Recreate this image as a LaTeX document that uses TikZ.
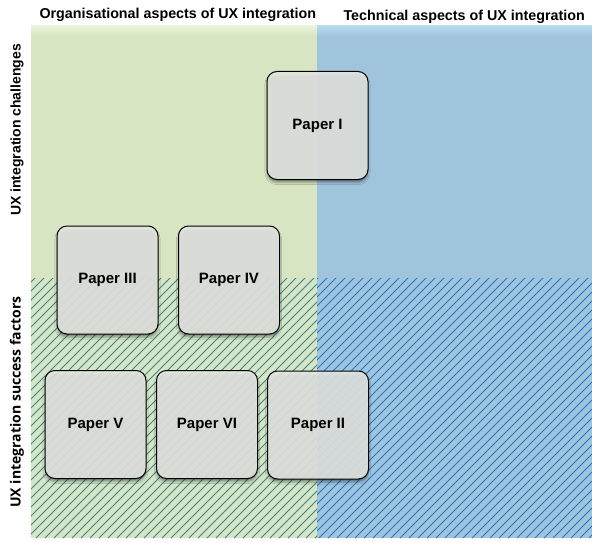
\documentclass[tikz,border=0pt]{standalone}
\usepackage{fontspec}
\setmainfont{Liberation Sans}
\newfontfamily\sidefont{Open Sans}
\usepackage{tikz}
\usetikzlibrary{shadows.blur}
\usepackage{xcolor}
\definecolor{orggreen}{RGB}{215, 229, 195}
\definecolor{orggreentop}{RGB}{232, 244, 216}
\definecolor{techblue}{RGB}{161, 196, 221}
\definecolor{techbluetop}{RGB}{184, 218, 240}
\definecolor{hatchgreen}{RGB}{56, 132, 150}
\definecolor{hatchblue}{RGB}{34, 120, 200}
\definecolor{boxgrey}{RGB}{230, 232, 228}

\begin{document}
\begin{tikzpicture}[x=1pt, y=-1pt,
    paperbox/.style={draw=black, line width=1pt, rounded corners=10pt,
        fill=boxgrey, fill opacity=0.88, text opacity=1,
        minimum width=101pt, minimum height=108pt,
        font=\bfseries\fontsize{15}{17}\selectfont,
        blur shadow={shadow xshift=0pt, shadow yshift=-3pt, shadow opacity=45}},
    toplabel/.style={anchor=base west, font=\bfseries\fontsize{14.3}{16}\selectfont},
    sidelabel/.style={rotate=90, anchor=center}]
    \useasboundingbox (0,0) rectangle (592,543);

    % quadrants
    \fill[orggreen] (31,26) rectangle (317,538);
    \fill[techblue] (317,26) rectangle (592,538);
    \shade[top color=orggreentop, bottom color=orggreen] (31,26) rectangle (317,36);
    \shade[top color=techbluetop, bottom color=techblue] (317,26) rectangle (592,36);

    % hatching for success factors
    \begin{scope}
        \clip (31,278) rectangle (317,538);
        \foreach \x in {-270,-261,...,330}
            \draw[hatchgreen, line width=0.85pt] (\x,538) -- ++(262,-262);
    \end{scope}
    \begin{scope}
        \clip (317,278) rectangle (592,538);
        \foreach \x in {40,49,...,600}
            \draw[hatchblue, line width=0.85pt] (\x,538) -- ++(262,-262);
    \end{scope}

    % axis labels
    \node[toplabel] (org) at (36,19) {Organisational aspects of UX integration};
    \node[toplabel] (tech) at (340,21) {Technical aspects of UX integration};
    \node[sidelabel, font=\bfseries\fontsize{14}{16}\selectfont] (chal) at (17,130) {UX integration challenges};
    \node[sidelabel, font=\sidefont\bfseries\fontsize{14}{16}\selectfont] (succ) at (17,402) {UX integration success factors};

    % papers
    \node[paperbox] (p1) at (317.5,125.5) {Paper I};
    \node[paperbox] (p3) at (107.5,280) {Paper III};
    \node[paperbox] (p4) at (229,280) {Paper IV};
    \node[paperbox] (p5) at (95.5,424.5) {Paper V};
    \node[paperbox] (p6) at (207,424.5) {Paper VI};
    \node[paperbox] (p2) at (318,425) {Paper II};
\end{tikzpicture}
\end{document}
